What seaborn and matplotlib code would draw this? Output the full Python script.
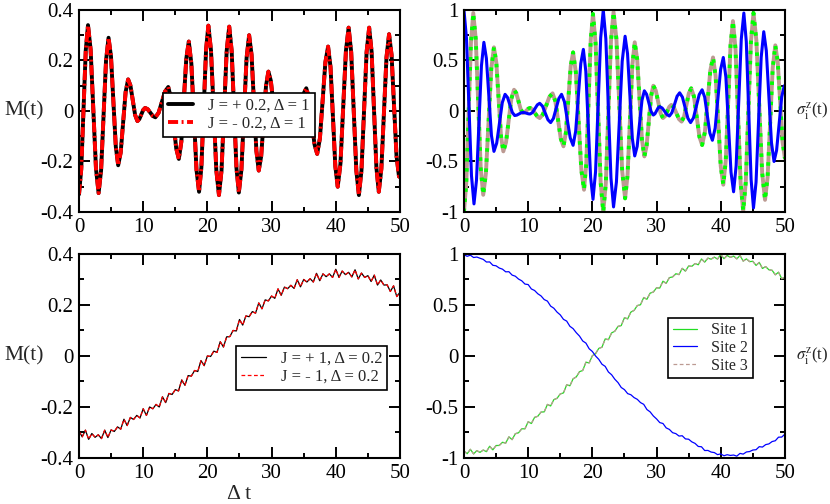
import numpy as np
import matplotlib
matplotlib.use("Agg")
import matplotlib.pyplot as plt
import seaborn as sns
from matplotlib.ticker import MultipleLocator, FuncFormatter

# ---- data ----
# top-left: M(t), J = +/-0.2, Delta = 1 (both curves coincide)
m_top = [
    (0.0, -0.33), (0.35, -0.23), (1.05, 0.24), (1.4, 0.34),
    (1.81, 0.243), (2.64, -0.228), (3.05, -0.325),
    (3.44, -0.235), (4.21, 0.20), (4.6, 0.29),
    (4.98, 0.216), (5.73, -0.141), (6.1, -0.215),
    (6.49, -0.165), (7.26, 0.075), (7.65, 0.125),
    (8.01, 0.101), (8.74, -0.016), (9.1, -0.04),
    (9.4, -0.032), (10.0, 0.004), (10.3, 0.012),
    (10.7, 0.007), (11.5, -0.02), (11.9, -0.025),
    (12.4, -0.007), (13.4, 0.077), (13.9, 0.095),
    (14.31, 0.053), (15.14, -0.148), (15.55, -0.19),
    (15.94, -0.122), (16.71, 0.207), (17.1, 0.275),
    (17.5, 0.188), (18.3, -0.233), (18.7, -0.32),
    (19.06, -0.224), (19.79, 0.242), (20.15, 0.338),
    (20.56, 0.24), (21.39, -0.235), (21.8, -0.333),
    (22.2, -0.236), (23.0, 0.237), (23.4, 0.334),
    (23.78, 0.238), (24.53, -0.227), (24.9, -0.323),
    (25.3, -0.232), (26.1, 0.209), (26.5, 0.30),
    (26.88, 0.222), (27.63, -0.158), (28.0, -0.236),
    (28.38, -0.179), (29.13, 0.099), (29.5, 0.156),
    (29.88, 0.12), (30.63, -0.054), (31.0, -0.09),
    (31.38, -0.074), (32.13, 0.004), (32.5, 0.02),
    (32.88, 0.013), (33.63, -0.023), (34.0, -0.03),
    (34.35, -0.012), (35.05, 0.072), (35.4, 0.09),
    (35.83, 0.052), (36.68, -0.132), (37.1, -0.17),
    (37.53, -0.108), (38.38, 0.193), (38.8, 0.255),
    (39.18, 0.174), (39.93, -0.219), (40.3, -0.30),
    (40.73, -0.208), (41.58, 0.238), (42.0, 0.33),
    (42.4, 0.233), (43.2, -0.236), (43.6, -0.333),
    (44.0, -0.236), (44.8, 0.233), (45.2, 0.33),
    (45.58, 0.235), (46.33, -0.225), (46.7, -0.32),
    (47.1, -0.229), (47.9, 0.213), (48.3, 0.304),
    (48.69, 0.222), (49.46, -0.178), (49.85, -0.26),
    (50.0, -0.255),
]

# top-right: sigma_i^z(t), sites 1 and 3 coincide
site13_top = [
    (0.0, -1.0), (0.36, -0.712), (1.09, 0.682), (1.45, 0.97),
    (1.84, 0.707), (2.61, -0.567), (3.0, -0.83),
    (3.42, -0.617), (4.25, 0.417), (4.67, 0.63),
    (5.04, 0.48), (5.77, -0.25), (6.13, -0.40),
    (6.55, -0.311), (7.38, 0.121), (7.8, 0.21),
    (8.15, 0.176), (8.85, 0.014), (9.2, -0.02),
    (9.48, -0.013), (10.03, 0.023), (10.3, 0.03),
    (10.68, 0.015), (11.43, -0.055), (11.8, -0.07),
    (12.3, -0.034), (13.3, 0.139), (13.8, 0.175),
    (14.23, 0.098), (15.08, -0.273), (15.5, -0.35),
    (15.88, -0.214), (16.63, 0.444), (17.0, 0.58),
    (17.43, 0.381), (18.28, -0.581), (18.7, -0.78),
    (19.05, -0.526), (19.75, 0.706), (20.1, 0.96),
    (20.5, 0.674), (21.3, -0.714), (21.7, -1.0),
    (22.1, -0.711), (22.9, 0.691), (23.3, 0.98),
    (23.75, 0.711), (24.65, -0.596), (25.1, -0.865),
    (25.48, -0.639), (26.23, 0.454), (26.6, 0.68),
    (26.98, 0.515), (27.73, -0.285), (28.1, -0.45),
    (28.45, -0.348), (29.15, 0.148), (29.5, 0.25),
    (29.88, 0.203), (30.63, -0.023), (31.0, -0.07),
    (31.33, -0.051), (31.98, 0.041), (32.3, 0.06),
    (32.7, 0.036), (33.5, -0.081), (33.9, -0.105),
    (34.28, -0.057), (35.03, 0.176), (35.4, 0.224),
    (35.83, 0.142), (36.68, -0.255), (37.1, -0.337),
    (37.53, -0.21), (38.38, 0.403), (38.8, 0.53),
    (39.2, 0.346), (40.0, -0.546), (40.4, -0.73),
    (40.78, -0.493), (41.53, 0.653), (41.9, 0.89),
    (42.3, 0.616), (43.1, -0.716), (43.5, -0.99),
    (43.9, -0.704), (44.7, 0.684), (45.1, 0.97),
    (45.55, 0.70), (46.45, -0.61), (46.9, -0.88),
    (47.3, -0.657), (48.1, 0.427), (48.5, 0.65),
    (48.88, 0.486), (49.63, -0.306), (50.0, -0.47),
]

site2_top = [
    (0.0, 1.0), (0.39, 0.72), (1.17, -0.64), (1.56, -0.92),
    (1.95, -0.686), (2.72, 0.446), (3.1, 0.68),
    (3.49, 0.522), (4.28, -0.242), (4.67, -0.40),
    (5.1, -0.318), (5.97, 0.083), (6.4, 0.165),
    (6.78, 0.134), (7.53, -0.014), (7.9, -0.045),
    (8.23, -0.041), (8.88, -0.019), (9.2, -0.015),
    (9.48, -0.017), (10.03, -0.028), (10.3, -0.03),
    (10.68, -0.015), (11.43, 0.061), (11.8, 0.076),
    (12.23, 0.048), (13.08, -0.087), (13.5, -0.115),
    (13.93, -0.074), (14.78, 0.124), (15.2, 0.165),
    (15.65, 0.091), (16.55, -0.266), (17.0, -0.34),
    (17.4, -0.201), (18.2, 0.471), (18.6, 0.61),
    (18.98, 0.393), (19.73, -0.658), (20.1, -0.875),
    (20.5, -0.601), (21.3, 0.726), (21.7, 1.0),
    (22.1, 0.715), (22.9, -0.665), (23.3, -0.95),
    (23.75, -0.703), (24.65, 0.493), (25.1, 0.74),
    (25.48, 0.567), (26.23, -0.272), (26.6, -0.445),
    (26.98, -0.351), (27.73, 0.106), (28.1, 0.20),
    (28.45, 0.165), (29.15, -0.005), (29.5, -0.04),
    (29.75, -0.028), (30.25, 0.031), (30.5, 0.043),
    (30.88, 0.029), (31.63, -0.036), (32.0, -0.05),
    (32.4, -0.016), (33.2, 0.146), (33.6, 0.18),
    (34.03, 0.137), (34.88, -0.072), (35.3, -0.115),
    (35.75, -0.068), (36.65, 0.163), (37.1, 0.21),
    (37.5, 0.137), (38.3, -0.217), (38.7, -0.29),
    (39.13, -0.17), (39.98, 0.41), (40.4, 0.53),
    (40.8, 0.336), (41.6, -0.606), (42.0, -0.80),
    (42.4, -0.542), (43.2, 0.712), (43.6, 0.97),
    (43.98, 0.688), (44.73, -0.678), (45.1, -0.96),
    (45.5, -0.705), (46.3, 0.53), (46.7, 0.785),
    (47.1, 0.597), (47.9, -0.312), (48.3, -0.50),
    (48.7, -0.39), (49.5, 0.14), (49.9, 0.25),
    (50.0, 0.24),
]

# bottom panels sampled every 0.5 in Delta t
t_bottom = np.linspace(0, 50, 101)

m_bottom = [
    -0.295, -0.317, -0.291, -0.327, -0.304, -0.319, -0.309, -0.324, -0.291, -0.320,
    -0.290, -0.296, -0.278, -0.287, -0.248, -0.273, -0.241, -0.249, -0.233, -0.243,
    -0.207, -0.233, -0.200, -0.207, -0.190, -0.200, -0.160, -0.183, -0.147, -0.151,
    -0.132, -0.137, -0.094, -0.115, -0.077, -0.079, -0.057, -0.061, -0.018, -0.038,
    0.000, -0.002, 0.019, 0.014, 0.056, 0.035, 0.075, 0.076, 0.100, 0.098,
    0.143, 0.121, 0.157, 0.154, 0.174, 0.168, 0.208, 0.185, 0.220, 0.216,
    0.235, 0.226, 0.263, 0.238, 0.270, 0.264, 0.277, 0.265, 0.299, 0.271,
    0.300, 0.290, 0.303, 0.290, 0.324, 0.295, 0.322, 0.311, 0.322, 0.308,
    0.340, 0.308, 0.333, 0.319, 0.328, 0.310, 0.338, 0.302, 0.325, 0.308,
    0.315, 0.292, 0.317, 0.278, 0.298, 0.278, 0.279, 0.253, 0.275, 0.233,
    0.250,
]

site1_bottom = [
    -0.932, -0.958, -0.915, -0.960, -0.928, -0.945, -0.922, -0.938, -0.885, -0.920,
    -0.878, -0.877, -0.846, -0.854, -0.793, -0.820, -0.762, -0.753, -0.714, -0.714,
    -0.645, -0.662, -0.602, -0.591, -0.550, -0.548, -0.475, -0.490, -0.428, -0.415,
    -0.372, -0.362, -0.283, -0.292, -0.224, -0.205, -0.154, -0.142, -0.061, -0.068,
    0.002, 0.023, 0.074, 0.086, 0.167, 0.160, 0.226, 0.243, 0.290, 0.298,
    0.375, 0.364, 0.430, 0.447, 0.494, 0.502, 0.573, 0.556, 0.616, 0.627,
    0.668, 0.666, 0.733, 0.712, 0.768, 0.775, 0.806, 0.798, 0.859, 0.832,
    0.882, 0.879, 0.906, 0.894, 0.951, 0.920, 0.959, 0.949, 0.969, 0.950,
    0.995, 0.954, 0.985, 0.967, 0.979, 0.952, 0.985, 0.930, 0.952, 0.925,
    0.928, 0.888, 0.917, 0.858, 0.876, 0.845, 0.840, 0.796, 0.821, 0.758,
    0.772,
]

site2_bottom = [
    0.993, 0.977, 0.988, 0.965, 0.970, 0.958, 0.947, 0.921, 0.922, 0.889,
    0.884, 0.862, 0.851, 0.825, 0.826, 0.793, 0.782, 0.754, 0.737, 0.705,
    0.700, 0.657, 0.642, 0.610, 0.589, 0.553, 0.538, 0.489, 0.468, 0.430,
    0.403, 0.359, 0.342, 0.291, 0.268, 0.228, 0.195, 0.147, 0.126, 0.071,
    0.044, 0.000, -0.033, -0.081, -0.102, -0.157, -0.184, -0.228, -0.261, -0.309,
    -0.330, -0.369, -0.380, -0.408, -0.425, -0.457, -0.474, -0.525, -0.548, -0.588,
    -0.617, -0.653, -0.662, -0.705, -0.720, -0.752, -0.761, -0.785, -0.782, -0.813,
    -0.816, -0.842, -0.857, -0.887, -0.890, -0.927, -0.926, -0.942, -0.947, -0.967,
    -0.960, -0.978, -0.968, -0.975, -0.971, -0.982, -0.955, -0.962, -0.941, -0.937,
    -0.922, -0.919, -0.889, -0.893, -0.869, -0.862, -0.839, -0.831, -0.796, -0.795,
    -0.766,
]

site3_bottom = site1_bottom  # indistinguishable from site 1 in the figure

# ---- style ----
sns.set_style("ticks")
plt.rcParams["font.family"] = ["Liberation Serif", "DejaVu Serif"]
plt.rcParams["mathtext.fontset"] = "stix"
plt.rcParams["axes.unicode_minus"] = False

GREEN = "#22dd22"
BLUE = "#0000ff"
TAN = "#bc9a92"


def line(ax, t, v, **kw):
    sns.lineplot(x=np.asarray(t), y=np.asarray(v), ax=ax, estimator=None,
                 sort=False, legend=False, **kw)


def fmt(v, _):
    return "0" if abs(v) < 1e-9 else f"{v:g}"


def style_axes(ax, ylim, ymajor, yminor):
    ax.set_xlim(0, 50)
    ax.set_ylim(*ylim)
    ax.xaxis.set_major_locator(MultipleLocator(10))
    ax.xaxis.set_minor_locator(MultipleLocator(5))
    ax.yaxis.set_major_locator(MultipleLocator(ymajor))
    ax.yaxis.set_minor_locator(MultipleLocator(yminor))
    ax.xaxis.set_major_formatter(FuncFormatter(fmt))
    ax.yaxis.set_major_formatter(FuncFormatter(fmt))
    ax.tick_params(which="both", direction="in", top=True, right=True,
                   width=1.4, labelsize=15, pad=4, colors="black")
    ax.tick_params(which="major", length=8)
    ax.tick_params(which="minor", length=3.6)
    for s in ax.spines.values():
        s.set_linewidth(1.5)
        s.set_color("black")
    ax.set_xlabel("")
    ax.set_ylabel("")


def boxed_legend(ax, handles, labels, anchor, size):
    leg = ax.legend(handles, labels, loc="upper left", bbox_to_anchor=anchor,
                    borderaxespad=0, fancybox=False, framealpha=1,
                    edgecolor="black", fontsize=size, handlelength=1.5,
                    handletextpad=0.9, borderpad=0.3, labelspacing=0.1)
    leg.get_frame().set_linewidth(1.2)
    return leg


fig = plt.figure(figsize=(8.3, 5.04), dpi=100)
ax_tl = fig.add_axes([0.0952, 0.5794, 0.3867, 0.4008])
ax_tr = fig.add_axes([0.5590, 0.5794, 0.3867, 0.4008])
ax_bl = fig.add_axes([0.0952, 0.0913, 0.3867, 0.4048])
ax_br = fig.add_axes([0.5590, 0.0913, 0.3867, 0.4048])

# top-left
mt = np.array(m_top)
line(ax_tl, mt[:, 0], mt[:, 1], color="black", linewidth=2.8)
line(ax_tl, mt[:, 0], mt[:, 1], color="red", linewidth=2.8,
     linestyle=(0, (2.6, 0.9, 0.5, 0.9)))
style_axes(ax_tl, (-0.4, 0.4), 0.2, 0.1)
boxed_legend(ax_tl, ax_tl.get_lines()[:2],
             ["J = + 0.2, Δ = 1", "J = - 0.2, Δ = 1"], (0.262, 0.589), 12)
ax_tl.set_ylabel("M(t)", fontsize=15.5, rotation=0, va="center", ha="center")
ax_tl.yaxis.set_label_coords(-0.172, 0.5)

# top-right
s13 = np.array(site13_top)
s2 = np.array(site2_top)
line(ax_tr, s13[:, 0], s13[:, 1], color=TAN, linewidth=2.8)
line(ax_tr, s13[:, 0], s13[:, 1], color="#00ff00", linewidth=2.8,
     linestyle=(0, (0.9, 1.7)))
line(ax_tr, s2[:, 0], s2[:, 1], color=BLUE, linewidth=2.2)
style_axes(ax_tr, (-1, 1), 0.5, 0.25)
ax_tr.text(1.035, 0.5, r"$\sigma_{\mathrm{i}}^{\mathrm{z}}$(t)", transform=ax_tr.transAxes,
           fontsize=12, ha="left", va="center")

# bottom-left
line(ax_bl, t_bottom, m_bottom, color="black", linewidth=0.9)
line(ax_bl, t_bottom, m_bottom, color="red", linewidth=0.9,
     linestyle=(0, (3, 2)))
style_axes(ax_bl, (-0.4, 0.4), 0.2, 0.1)
boxed_legend(ax_bl, ax_bl.get_lines()[:2],
             ["J = + 1, Δ = 0.2", "J = - 1, Δ = 0.2"], (0.488, 0.549), 12)
ax_bl.set_ylabel("M(t)", fontsize=15.5, rotation=0, va="center", ha="center")
ax_bl.yaxis.set_label_coords(-0.172, 0.5)
ax_bl.set_xlabel("Δ t", fontsize=15.5, labelpad=2)

# bottom-right
line(ax_br, t_bottom, site1_bottom, color=GREEN, linewidth=0.9)
line(ax_br, t_bottom, site2_bottom, color=BLUE, linewidth=0.9)
line(ax_br, t_bottom, site3_bottom, color=TAN, linewidth=0.9,
     linestyle=(0, (3, 2)))
style_axes(ax_br, (-1, 1), 0.5, 0.25)
boxed_legend(ax_br, ax_br.get_lines()[:3], ["Site 1", "Site 2", "Site 3"],
             (0.636, 0.688), 11.5)
ax_br.text(1.035, 0.5, r"$\sigma_{\mathrm{i}}^{\mathrm{z}}$(t)", transform=ax_br.transAxes,
           fontsize=12, ha="left", va="center")

fig.savefig("out.png", dpi=100)
